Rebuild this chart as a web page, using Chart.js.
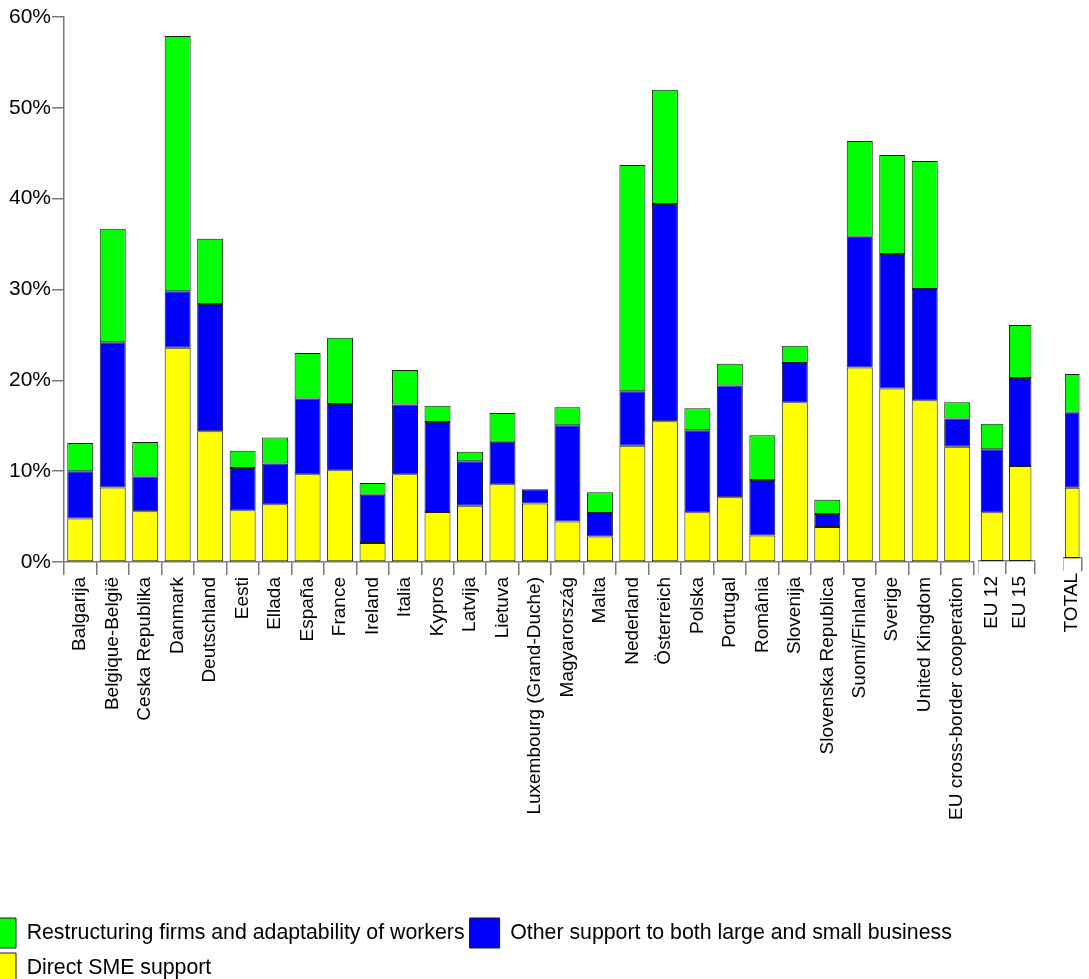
<!DOCTYPE html>
<html>
<head>
<meta charset="utf-8">
<script src="https://cdn.jsdelivr.net/npm/chart.js@4.4.1/dist/chart.umd.min.js"></script>
<style>
  html, body { margin: 0; padding: 0; background: #fff; overflow: hidden; width: 1089px; height: 979px; }
  canvas { position: absolute; top: 0; }
</style>
</head>
<body>
<canvas id="mainChart" width="1001" height="993" style="left:-19px"></canvas>
<canvas id="euChart" width="67" height="900" style="left:978px"></canvas>
<canvas id="totalChart" width="34" height="900" style="left:1063px"></canvas>
<script>
    // categories
    const countries = ["Balgarija", "Belgique-België", "Ceska Republika", "Danmark", "Deutschland", "Eesti",
        "Ellada", "España", "France", "Ireland", "Italia", "Kypros", "Latvija", "Lietuva",
        "Luxembourg (Grand-Duche)", "Magyarország", "Malta", "Nederland", "Österreich", "Polska",
        "Portugal", "România", "Slovenija", "Slovenska Republica", "Suomi/Finland", "Sverige",
        "United Kingdom", "EU cross-border cooperation"]
    const euGroups = ["EU 12", "EU 15"]
    const totalGroup = ["TOTAL"]

    // series values (% share)
    const directSme = [4.8, 8.2, 5.6, 23.6, 14.4, 5.7, 6.35, 9.65, 10.1, 2.1, 9.65, 5.5, 6.2, 8.55,
        6.45, 4.45, 2.8, 12.8, 15.5, 5.47, 7.12, 2.93, 17.6, 3.85, 21.4, 19.1, 17.8, 12.7]
    const otherSupport = [5.2, 16.0, 3.8, 6.2, 14.0, 4.65, 4.5, 8.35, 7.3, 5.3, 7.7, 9.9, 4.9, 4.7,
        1.55, 10.6, 2.6, 6.0, 23.9, 9.03, 12.3, 6.1, 4.3, 1.43, 14.4, 14.8, 12.25, 3.1]
    const restructuring = [3.1, 12.5, 3.8, 28.1, 7.2, 1.9, 2.85, 5.0, 7.3, 1.3, 3.8, 1.8, 1.05, 3.15,
        0, 2.0, 2.27, 24.9, 12.6, 2.42, 2.4, 4.92, 1.9, 1.58, 10.55, 10.9, 14.1, 1.78]

    const euSme = [5.37, 10.48]
    const euOther = [6.95, 9.7]
    const euRestructuring = [2.82, 5.85]

    const totalSme = [7.8]
    const totalOther = [8.3]
    const totalRestructuring = [4.3]

    const yTicks = [0, 10, 20, 30, 40, 50, 60]

    const seriesNames = ["Direct SME support", "Other support to both large and small business",
        "Restructuring firms and adaptability of workers"]
    const colourList = ["#FFFF00", "#0000FF", "#00FF00"]

    const fontFamily = "'Liberation Sans', Arial, sans-serif"
    const axisColour = "#7a7a7a"

    function buildDatasets(series){
        return series.map((values, i) => ({
            label: seriesNames[i],
            data: values,
            backgroundColor: colourList[i],
            borderColor: "#1a1a1a",
            borderWidth: 1,
            borderSkipped: false,
            barPercentage: 0.8,
            categoryPercentage: 1.0
        }))
    }

    function makeChart(id, labels, series, opts){
        const ctx = document.getElementById(id).getContext('2d')
        return new Chart(ctx, {
            type: 'bar',
            data: {
                labels: labels,
                datasets: buildDatasets(series)
            },
            options: {
                responsive: false,
                animation: false,
                devicePixelRatio: 1,
                layout: {
                    padding: { top: 17, left: 0, right: opts.padRight || 0, bottom: 0 }
                },
                scales: {
                    x: {
                        stacked: true,
                        grid: {
                            offset: true,
                            drawOnChartArea: false,
                            drawTicks: true,
                            tickLength: 13,
                            color: axisColour,
                            lineWidth: 1.5
                        },
                        border: { display: true, color: axisColour, width: 1.5 },
                        ticks: {
                            autoSkip: false,
                            minRotation: 90,
                            maxRotation: 90,
                            padding: 2,
                            color: '#000',
                            font: { family: fontFamily, size: 19 }
                        },
                        afterFit: (scale) => { scale.height = opts.xHeight }
                    },
                    y: {
                        stacked: true,
                        display: opts.showY,
                        min: 0,
                        max: 60,
                        afterBuildTicks: (scale) => { scale.ticks = yTicks.map(v => ({ value: v })) },
                        grid: {
                            drawOnChartArea: false,
                            drawTicks: true,
                            tickLength: 12,
                            color: axisColour,
                            lineWidth: 1.5
                        },
                        border: { display: true, color: axisColour, width: 1.5 },
                        ticks: {
                            padding: 1,
                            color: '#000',
                            font: { family: fontFamily, size: 21 },
                            callback: (value) => value + '%'
                        },
                        afterFit: (scale) => { if (opts.showY) scale.width = 83 }
                    }
                },
                plugins: {
                    tooltip: { enabled: false },
                    legend: {
                        display: opts.showLegend,
                        position: 'bottom',
                        align: 'start',
                        labels: {
                            boxWidth: 30,
                            boxHeight: 30,
                            padding: 5,
                            color: '#000',
                            font: { family: fontFamily, size: 21.3 },
                            sort: (a, b) => b.datasetIndex - a.datasetIndex
                        }
                    }
                }
            }
        })
    }

    // main panel: countries
    makeChart('mainChart', countries, [directSme, otherSupport, restructuring],
        { showY: true, showLegend: true, xHeight: 351, padRight: 0 })

    // EU 12 / EU 15 panel
    makeChart('euChart', euGroups, [euSme, euOther, euRestructuring],
        { showY: false, showLegend: false, xHeight: 900 - 561 })

    // TOTAL panel
    makeChart('totalChart', totalGroup, [totalSme, totalOther, totalRestructuring],
        { showY: false, showLegend: false, xHeight: 900 - 558 })
</script>
</body>
</html>
